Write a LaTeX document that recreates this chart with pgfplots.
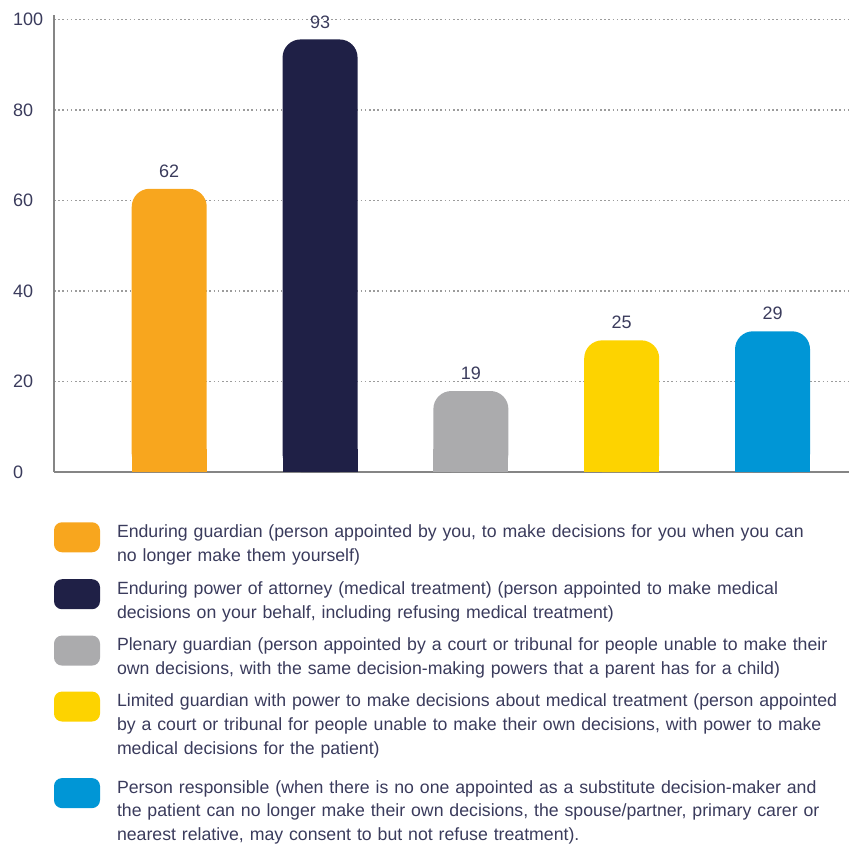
\documentclass[border=0pt]{standalone}
\usepackage{pgfplots}
\pgfplotsset{compat=1.18}
\usepackage{fontspec}
\setmainfont{Liberation Sans}
\definecolor{cOrange}{HTML}{F8A61E}
\definecolor{cNavy}{HTML}{1F2046}
\definecolor{cGray}{HTML}{ABABAD}
\definecolor{cYellow}{HTML}{FDD300}
\definecolor{cBlue}{HTML}{0096D6}
\definecolor{txt}{HTML}{3A3B5C}
\definecolor{axgray}{HTML}{858585}
\definecolor{gridgray}{HTML}{9C9C9C}
\newcommand{\lstrut}{\rule[-7.14bp]{0pt}{23.8bp}}
\pgfplotsset{
  mybar/.style 2 args={ybar, bar width=75bp, bar shift=0pt, draw=none, fill=#1,
    rounded corners=18bp,
    nodes near coords, point meta=explicit symbolic,
    every node near coord/.append style={font=\fontsize{18bp}{20bp}\selectfont, text=txt, inner sep=0pt, anchor=south, yshift=11bp, rounded corners=0pt},
    legend image code/.code={\fill[#1, draw=none, rounded corners=8bp] (0bp,-15bp) rectangle (46bp,15bp); \path[draw=none, fill=none] (0bp,0bp) rectangle (1bp,-#2);}},
  mycover/.style={ybar, bar width=75bp, bar shift=0pt, draw=none, fill=#1, forget plot}
}
\begin{document}
\begin{tikzpicture}
\useasboundingbox (-54bp,-373bp) rectangle (795bp,472bp);
\begin{axis}[
  scale only axis,
  width=795bp, height=457bp,
  xmin=-0.764, xmax=4.507,
  ymin=0, ymax=101,
  xtick=\empty,
  ytick={0,20,40,60,80,100},
  axis x line*=bottom, axis y line*=left,
  axis line style={draw=axgray, line width=1.5bp, -},
  major tick length=0pt,
  ymajorgrids,
  grid style={draw=gridgray, line width=1.7bp, dash pattern=on 1.6bp off 2.6bp},
  /pgf/number format/assume math mode=true,
  yticklabel style={font=\fontsize{18bp}{20bp}\selectfont, text=txt, anchor=west, inner sep=0pt, xshift=-41bp},
  legend style={draw=none, fill=none, inner sep=0pt, outer sep=0pt,
    at={(0,0)}, anchor=north west, yshift=-48.6bp,
    row sep=9bp, column sep=17bp,
    nodes={inner sep=0pt, outer sep=0pt, text width=745bp, align=left,
      font=\fontsize{17.7bp}{23.8bp}\selectfont, text=txt}},
  legend cell align=left,
  legend style={cells={anchor=base west}},
]
\addplot[mybar={cOrange}{31.3bp}] coordinates {(0,62.6) [62]};
\addlegendentry{\lstrut Enduring guardian (person appointed by you, to make decisions for you when you can\newline no longer make them yourself)\lstrut}
\addplot[mycover=cOrange] coordinates {(0,5)};
\addplot[mybar={cNavy}{30.7bp}] coordinates {(1,95.6) [93]};
\addlegendentry{\lstrut Enduring power of attorney (medical treatment) (person appointed to make medical\newline decisions on your behalf, including refusing medical treatment)\lstrut}
\addplot[mycover=cNavy] coordinates {(1,5)};
\addplot[mybar={cGray}{30.3bp}] coordinates {(2,17.9) [19]};
\addlegendentry{\lstrut Plenary guardian (person appointed by a court or tribunal for people unable to make their\newline own decisions, with the same decision-making powers that a parent has for a child)\lstrut}
\addplot[mycover=cGray] coordinates {(2,5)};
\addplot[mybar={cYellow}{60.9bp}] coordinates {(3,29.1) [25]};
\addlegendentry{\lstrut Limited guardian with power to make decisions about medical treatment (person appointed\newline by a court or tribunal for people unable to make their own decisions, with power to make\newline medical decisions for the patient)\lstrut}
\addplot[mycover=cYellow] coordinates {(3,5)};
\addplot[mybar={cBlue}{55bp}] coordinates {(4,31.1) [29]};
\addlegendentry{\lstrut Person responsible (when there is no one appointed as a substitute decision-maker and\newline the patient can no longer make their own decisions, the spouse/partner, primary carer or\newline nearest relative, may consent to but not refuse treatment).\lstrut}
\addplot[mycover=cBlue] coordinates {(4,5)};
\end{axis}
\end{tikzpicture}
\end{document}
